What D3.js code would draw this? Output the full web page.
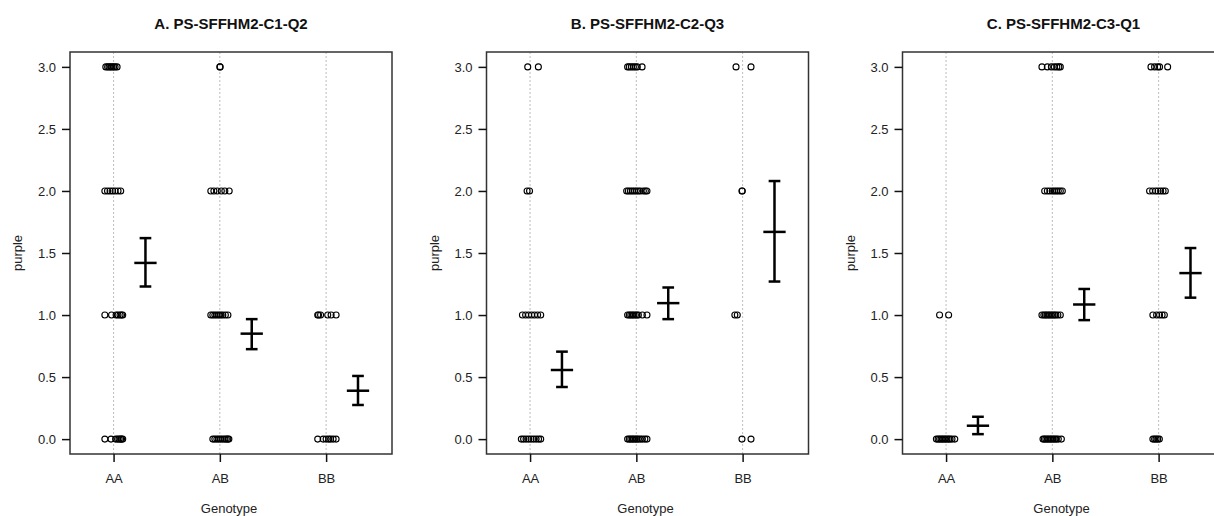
<!DOCTYPE html>
<html><head><meta charset="utf-8">
<script src="https://cdn.jsdelivr.net/npm/d3@7"></script>
<style>body{margin:0;background:#fff}svg{display:block}text{font-family:"Liberation Sans",Arial,sans-serif}</style>
</head><body><svg id="c" width="1214" height="516"></svg>
<script>
const titles = ["A. PS-SFFHM2-C1-Q2", "B. PS-SFFHM2-C2-Q3", "C. PS-SFFHM2-C3-Q1"];
const genotypes = ["AA", "AB", "BB"];
const yTicks = [0, 0.5, 1, 1.5, 2, 2.5, 3];
const yLabel = "purple";
const xLabel = "Genotype";

// mean and error-bar limits per genotype (AA, AB, BB)
const meansA = [1.42, 0.85, 0.39], upperA = [1.62, 0.967, 0.509], lowerA = [1.23, 0.725, 0.275];
const meansB = [0.557, 1.096, 1.67], upperB = [0.705, 1.222, 2.08], lowerB = [0.42, 0.967, 1.27];
const meansC = [0.108, 1.085, 1.338], upperC = [0.18, 1.21, 1.54], lowerC = [0.04, 0.959, 1.14];

// observations: [genotype, score, jitter offsets of each observation]
const pointsA = [
  ["AA", 3, [-0.073,-0.056,-0.042,-0.028,-0.014,0,0.014,0.033]],
  ["AA", 2, [-0.082,-0.057,-0.033,-0.009,0.014,0.042,0.067]],
  ["AA", 1, [-0.082,-0.019,0.024,0.042,0.061,0.075,0.086]],
  ["AA", 0, [-0.082,-0.024,0.019,0.038,0.052,0.066,0.075,0.086]],
  ["AB", 3, [0,0.003]],
  ["AB", 2, [-0.085,-0.056,-0.024,0.014,0.047,0.088]],
  ["AB", 1, [-0.085,-0.066,-0.047,-0.028,-0.009,0.009,0.028,0.052,0.076]],
  ["AB", 0, [-0.066,-0.047,-0.028,-0.009,0.009,0.028,0.047,0.061,0.075,0.085]],
  ["BB", 1, [-0.079,-0.071,-0.052,0.015,0.047,0.094]],
  ["BB", 0, [-0.079,-0.028,0,0.024,0.042,0.066,0.094]]
];
const pointsB = [
  ["AA", 3, [-0.022,0.078]],
  ["AA", 2, [-0.028,-0.005]],
  ["AA", 1, [-0.072,-0.042,-0.014,0.014,0.042,0.071,0.1]],
  ["AA", 0, [-0.082,-0.061,-0.038,-0.014,0.009,0.033,0.057,0.08,0.1]],
  ["AB", 3, [-0.082,-0.066,-0.047,-0.028,-0.009,0.009,0.054]],
  ["AB", 2, [-0.091,-0.075,-0.056,-0.038,-0.019,0,0.019,0.038,0.066,0.085,0.1]],
  ["AB", 1, [-0.082,-0.066,-0.052,-0.038,-0.024,-0.009,0.005,0.019,0.057,0.1]],
  ["AB", 0, [-0.082,-0.066,-0.052,-0.038,-0.024,-0.009,0.005,0.019,0.038,0.057,0.08,0.1]],
  ["BB", 3, [-0.062,0.079]],
  ["BB", 2, [-0.006,-0.003]],
  ["BB", 1, [-0.073,-0.05]],
  ["BB", 0, [-0.006,0.079]]
];
const pointsC = [
  ["AA", 1, [-0.061,0.024]],
  ["AA", 0, [-0.091,-0.075,-0.061,-0.047,-0.033,-0.019,-0.005,0.009,0.024,0.038,0.056,0.082]],
  ["AB", 3, [-0.098,-0.047,-0.009,0.019,0.042,0.061,0.075]],
  ["AB", 2, [-0.072,-0.047,-0.024,0,0.019,0.038,0.056,0.075,0.094]],
  ["AB", 1, [-0.098,-0.08,-0.066,-0.052,-0.038,-0.024,-0.009,0.005,0.019,0.033,0.052,0.075]],
  ["AB", 0, [-0.088,-0.075,-0.061,-0.047,-0.033,-0.019,-0.005,0.009,0.024,0.038,0.056,0.085]],
  ["BB", 3, [-0.072,-0.038,-0.009,0.009,0.085]],
  ["BB", 2, [-0.085,-0.056,-0.028,-0.005,0.019,0.042,0.063]],
  ["BB", 1, [-0.054,-0.019,0.009,0.033,0.054]],
  ["BB", 0, [-0.054,-0.038,-0.024,-0.009,0.007]]
];

const panels = [
  {title: titles[0], means: meansA, upper: upperA, lower: lowerA, points: pointsA},
  {title: titles[1], means: meansB, upper: upperB, lower: lowerB, points: pointsB},
  {title: titles[2], means: meansC, upper: upperC, lower: lowerC, points: pointsC}
];

const svg = d3.select("#c");
const lefts = [70, 486.5, 902.5];
const W = 322, yTop = 52, yBot = 454;
const y = d3.scaleLinear().domain([-0.12, 3.12]).range([yBot, yTop]);
const gIndex = d3.scaleOrdinal().domain(genotypes).range([1, 2, 3]);

panels.forEach((p, i) => {
  const L = lefts[i];
  const x = d3.scaleLinear().domain([0.59, 3.62]).range([L, L + W]);
  const g = svg.append("g");

  g.selectAll(".grid").data(genotypes).join("line")
    .attr("x1", d => x(gIndex(d))).attr("x2", d => x(gIndex(d)))
    .attr("y1", yTop).attr("y2", yBot)
    .attr("stroke", "#bdbdbd").attr("stroke-width", 1).attr("stroke-dasharray", "2,2");

  const pts = [];
  p.points.forEach(([gt, v, js]) => js.forEach(j => pts.push({x: gIndex(gt) + j, v})));
  g.selectAll(".pt").data(pts).join("circle")
    .attr("cx", d => x(d.x)).attr("cy", d => y(d.v)).attr("r", 3)
    .attr("fill", "none").attr("stroke", "#000").attr("stroke-width", 1.1);

  genotypes.forEach((gt, k) => {
    const cx = gIndex(gt) + 0.3;
    const eb = g.append("g").attr("stroke", "#000").attr("stroke-width", 2.5).attr("fill", "none");
    eb.append("line").attr("x1", x(cx)).attr("x2", x(cx)).attr("y1", y(p.upper[k])).attr("y2", y(p.lower[k]));
    eb.append("line").attr("x1", x(cx - 0.055)).attr("x2", x(cx + 0.055)).attr("y1", y(p.upper[k])).attr("y2", y(p.upper[k]));
    eb.append("line").attr("x1", x(cx - 0.055)).attr("x2", x(cx + 0.055)).attr("y1", y(p.lower[k])).attr("y2", y(p.lower[k]));
    eb.append("line").attr("x1", x(cx - 0.105)).attr("x2", x(cx + 0.105)).attr("y1", y(p.means[k])).attr("y2", y(p.means[k]));
  });

  g.append("rect").attr("x", L).attr("y", yTop).attr("width", W).attr("height", yBot - yTop)
    .attr("fill", "none").attr("stroke", "#333").attr("stroke-width", 1.5);

  const ya = g.append("g").attr("transform", `translate(${L},0)`)
    .call(d3.axisLeft(y).tickValues(yTicks).tickFormat(d3.format(".1f")).tickSize(8).tickPadding(6));
  ya.select(".domain").remove();
  ya.selectAll("line").attr("stroke", "#111").attr("stroke-width", 1.5);
  ya.selectAll("text").attr("font-size", 13).attr("fill", "#222")
    .attr("font-family", "Liberation Sans, Arial, sans-serif");

  const xa = g.append("g").attr("transform", `translate(0,${yBot})`)
    .call(d3.axisBottom(x).tickValues([1, 2, 3]).tickFormat(d => genotypes[d - 1]).tickSize(8).tickPadding(12));
  xa.select(".domain").remove();
  xa.selectAll("line").attr("stroke", "#111").attr("stroke-width", 1.5);
  xa.selectAll("text").attr("font-size", 13).attr("fill", "#222")
    .attr("font-family", "Liberation Sans, Arial, sans-serif");

  g.append("text").attr("x", L + W / 2).attr("y", 29).attr("text-anchor", "middle")
    .attr("font-size", 15).attr("font-weight", "bold").attr("fill", "#111").text(p.title);
  g.append("text").attr("x", L + W / 2 - 2).attr("y", 513).attr("text-anchor", "middle")
    .attr("font-size", 13).attr("fill", "#222").text(xLabel);
  g.append("text").attr("transform", `translate(${L - 48},253) rotate(-90)`).attr("text-anchor", "middle")
    .attr("font-size", 13).attr("fill", "#222").text(yLabel);
});
</script></body></html>
